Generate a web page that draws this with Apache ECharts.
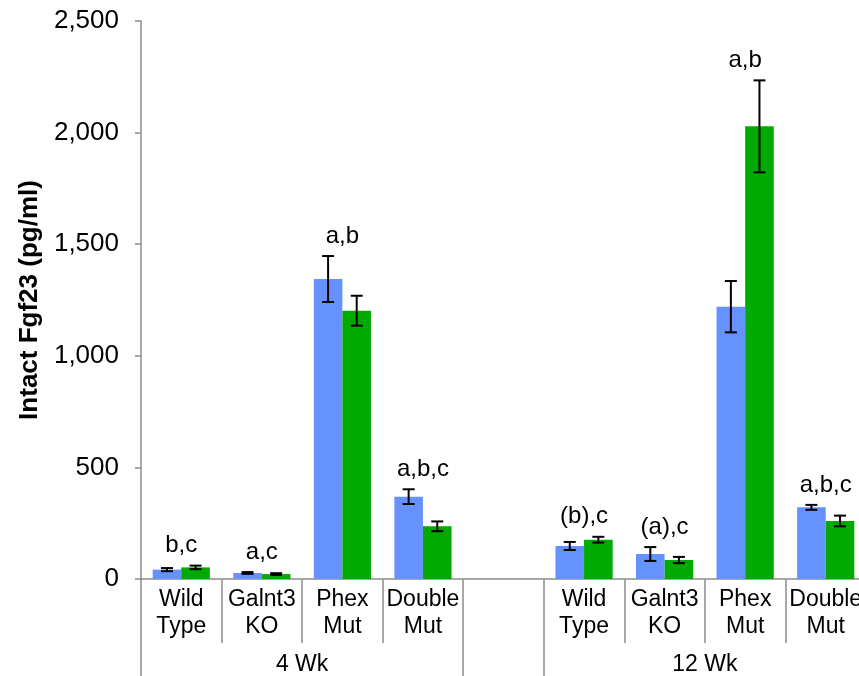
<!DOCTYPE html>
<html>
<head>
<meta charset="utf-8">
<script src="https://cdn.jsdelivr.net/npm/echarts@6/dist/echarts.min.js"></script>
<style>
  html, body { margin: 0; padding: 0; background: #fff; }
  #chart { width: 859px; height: 676px; }
</style>
</head>
<body>
<div id="chart"></div>
<script>
// Genotypes within each age group
const genotypes = ['Wild\nType', 'Galnt3\nKO', 'Phex\nMut', 'Double\nMut'];
const ageGroups = ['4 Wk', '12 Wk'];

// Intact Fgf23 (pg/ml), mean and error, first (blue) set
const blue4Wk = [42, 27, 1344, 369];
const blueErr4Wk = [7, 4, 103, 33];
const blue12Wk = [148, 112, 1220, 321];
const blueErr12Wk = [18, 31, 115, 11];

// Second (green) set
const green4Wk = [52, 22, 1202, 236];
const greenErr4Wk = [8, 4, 67, 22];
const green12Wk = [176, 85, 2028, 260];
const greenErr12Wk = [13, 14, 206, 24];

// Significance letters above each genotype
const letters4Wk = ['b,c', 'a,c', 'a,b', 'a,b,c'];
const letters12Wk = ['(b),c', '(a),c', 'a,b', 'a,b,c'];

// Y axis ticks
const yMax = 2500;
const yStep = 500;

// Category slots: 4 genotypes, an empty spacer, 4 genotypes
const categories = [...genotypes, '', ...genotypes];
const join = (a, b) => [...a, '-', ...b];
const blueVals = join(blue4Wk, blue12Wk);
const blueErrs = join(blueErr4Wk, blueErr12Wk);
const greenVals = join(green4Wk, green12Wk);
const greenErrs = join(greenErr4Wk, greenErr12Wk);
const letters = join(letters4Wk, letters12Wk);

const CATEGORY_GAP = 0.29;
const FONT = 'Liberation Sans, Arial, sans-serif';
const AXIS_GRAY = '#8c8c8c';

function errorBarData(vals, errs) {
  return vals.map((v, i) => v === '-' ? null : [i, v, errs[i]]).filter(Boolean);
}

function errorBars(side) {
  return function (params, api) {
    const idx = api.value(0);
    const v = api.value(1);
    const e = api.value(2);
    const band = api.size([1, 0])[0];
    const barW = band * (1 - CATEGORY_GAP) / 2;
    const cx = api.coord([idx, v])[0] + side * barW / 2;
    const yTop = api.coord([idx, v + e])[1];
    const yBot = api.coord([idx, v - e])[1];
    const cap = 6;
    const st = { stroke: '#000', lineWidth: 2 };
    return {
      type: 'group',
      children: [
        { type: 'line', shape: { x1: cx, y1: yTop, x2: cx, y2: yBot }, style: st },
        { type: 'line', shape: { x1: cx - cap, y1: yTop, x2: cx + cap, y2: yTop }, style: st },
        { type: 'line', shape: { x1: cx - cap, y1: yBot, x2: cx + cap, y2: yBot }, style: st }
      ]
    };
  };
}

// Letters sit above the higher of the two error bars
const letterData = letters.map((t, i) => {
  if (t === '-' || t === '') return null;
  const top = Math.max(blueVals[i] + blueErrs[i], greenVals[i] + greenErrs[i]);
  return [i, top, t];
}).filter(Boolean);

const chart = echarts.init(document.getElementById('chart'), null, { renderer: 'canvas' });

chart.setOption({
  animation: false,
  backgroundColor: '#fff',
  textStyle: { fontFamily: FONT },
  // The last slot runs past the right edge of the canvas
  grid: { left: 141, top: 21, bottom: 97, width: 725, containLabel: false, outerBoundsMode: 'none' },
  xAxis: [
    {
      type: 'category',
      data: categories,
      boundaryGap: true,
      axisLine: { show: true, lineStyle: { color: AXIS_GRAY, width: 1.5 } },
      axisTick: { show: true, interval: 0, length: 64, lineStyle: { color: AXIS_GRAY, width: 1.5 } },
      axisLabel: {
        interval: 0, color: '#000', fontSize: 23, lineHeight: 27,
        fontFamily: FONT, margin: 7
      },
      splitLine: { show: false }
    },
    {
      type: 'value',
      min: 0,
      max: categories.length,
      position: 'bottom',
      axisLine: { show: false },
      splitLine: { show: false },
      axisTick: {
        show: true, length: 97,
        customValues: [0, genotypes.length, genotypes.length + 1, categories.length],
        lineStyle: { color: AXIS_GRAY, width: 1.5 }
      },
      axisLabel: {
        customValues: [genotypes.length / 2, genotypes.length + 1 + genotypes.length / 2],
        formatter: v => (v < genotypes.length ? ageGroups[0] : ageGroups[1]),
        color: '#000', fontSize: 23, fontFamily: FONT, margin: 74
      }
    }
  ],
  yAxis: {
    type: 'value',
    min: 0,
    max: yMax,
    interval: yStep,
    name: 'Intact Fgf23 (pg/ml)',
    nameLocation: 'middle',
    nameRotate: 90,
    nameGap: 96,
    nameTextStyle: { color: '#000', fontSize: 26, fontWeight: 'bold', fontFamily: FONT },
    axisLine: { show: true, lineStyle: { color: AXIS_GRAY, width: 1.5 } },
    axisTick: { show: true, length: 6, lineStyle: { color: AXIS_GRAY, width: 1.5 } },
    axisLabel: {
      color: '#000', fontSize: 26, fontFamily: FONT, margin: 22,
      formatter: v => v.toLocaleString('en-US')
    },
    splitLine: { show: false }
  },
  series: [
    {
      name: 'Set A',
      type: 'bar',
      data: blueVals,
      barGap: '0%',
      barCategoryGap: (CATEGORY_GAP * 100) + '%',
      itemStyle: { color: '#6692ff' },
      z: 2
    },
    {
      name: 'Set B',
      type: 'bar',
      data: greenVals,
      itemStyle: { color: '#00aa00' },
      z: 2
    },
    {
      type: 'custom',
      renderItem: errorBars(-1),
      data: errorBarData(blueVals, blueErrs),
      z: 5
    },
    {
      type: 'custom',
      renderItem: errorBars(1),
      data: errorBarData(greenVals, greenErrs),
      z: 5
    },
    {
      type: 'custom',
      data: letterData,
      z: 6,
      renderItem: function (params, api) {
        const pt = api.coord([api.value(0), api.value(1)]);
        const item = letterData[params.dataIndex];
        return {
          type: 'text',
          style: {
            text: item[2],
            x: pt[0],
            y: pt[1] - 8,
            align: 'center',
            verticalAlign: 'bottom',
            fontSize: 24,
            fontFamily: FONT,
            fill: '#000'
          }
        };
      }
    }
  ]
});
</script>
</body>
</html>
